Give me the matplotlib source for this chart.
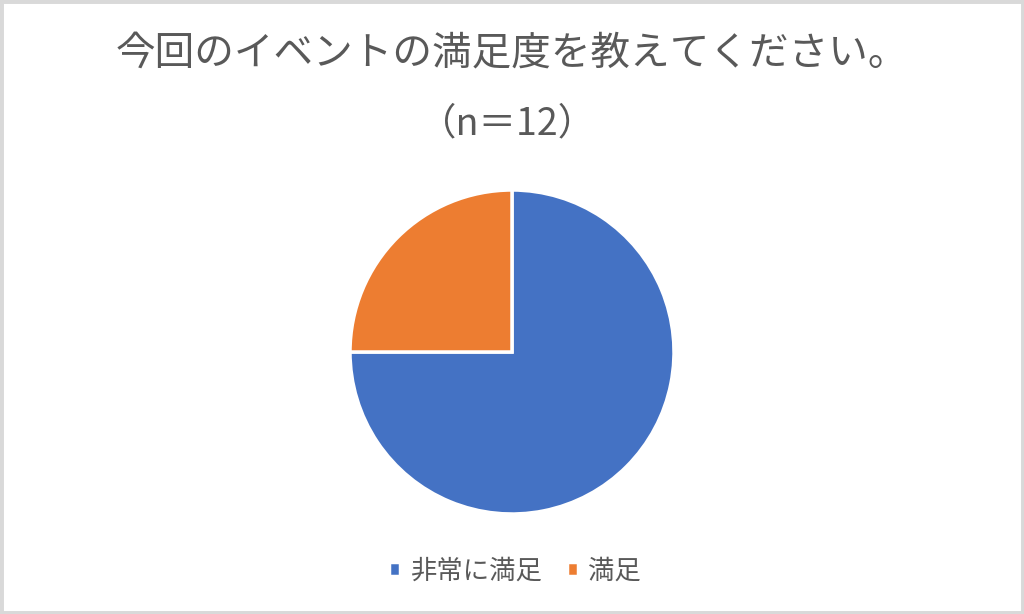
import matplotlib
matplotlib.use('Agg')
import matplotlib.pyplot as plt
from matplotlib.patches import Rectangle

plt.rcParams['font.family'] = ['Noto Sans CJK JP', 'DejaVu Sans']

labels = ['非常に満足', '満足']
counts = [9, 3]
colors = ['#4472C4', '#ED7D31']
title = '今回のイベントの満足度を教えてください。'
subtitle = '（n＝12）'

fig = plt.figure(figsize=(10.24, 6.14), dpi=100)
fig.patches.append(Rectangle((0, 0), 1, 1, transform=fig.transFigure,
                             fill=False, edgecolor='#D9D9D9', linewidth=5))

W, H = 1024, 614
cx, cy, r = 512, 352, 162
ax = fig.add_axes([(cx - r) / W, (H - cy - r) / H, 2 * r / W, 2 * r / H])
wedges, _ = ax.pie(counts, colors=colors, startangle=90, counterclock=False,
                   radius=1, wedgeprops=dict(edgecolor='white', linewidth=2.5))
ax.set_xlim(-1.0, 1.0)
ax.set_ylim(-1.0, 1.0)
ax.set_aspect('equal')

fig.text(512 / W, 1 - 53 / H, title, ha='center', va='center',
         fontsize=28.5, color='#595959')
fig.text(508 / W, 1 - 124 / H, subtitle, ha='center', va='center',
         fontsize=27, color='#595959')

fig.legend(wedges, labels, loc='center', bbox_to_anchor=(0.503, 1 - 571 / H),
           ncol=2, frameon=False, fontsize=19, labelcolor='#595959',
           handlelength=0.42, handleheight=0.42, handletextpad=0.4,
           columnspacing=0.9)

fig.savefig('out.png', dpi=100)
